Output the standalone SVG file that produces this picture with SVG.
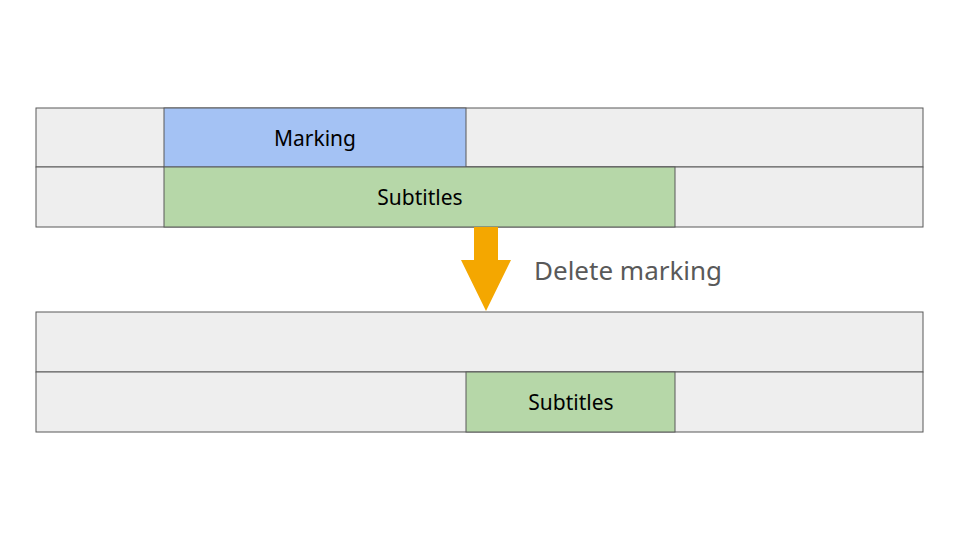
<svg xmlns="http://www.w3.org/2000/svg" width="960" height="540" viewBox="0 0 960 540">
<style>
.bg{fill:#eeeeee;stroke:#595959;stroke-width:1}
.blue{fill:#a4c2f4;stroke:#595959;stroke-width:1}
.green{fill:#b6d7a8;stroke:#595959;stroke-width:1}
text{font-family:"Noto Sans","Open Sans",sans-serif;text-anchor:middle;dominant-baseline:central}
.lbl{font-size:21px;fill:#000}
.note{font-size:26px;fill:#595959;text-anchor:start}
</style>
<rect width="960" height="540" fill="#fff"/>
<g id="top-row1"><rect class="bg" x="36" y="108" width="887" height="59"/></g>
<g id="top-row2"><rect class="bg" x="36" y="167" width="887" height="60"/></g>
<g id="marking"><rect class="blue" x="164" y="108" width="302" height="59"/><text class="lbl" x="315" y="138">Marking</text></g>
<g id="subtitles-top"><rect class="green" x="164" y="167" width="511" height="60"/><text class="lbl" x="420" y="197">Subtitles</text></g>
<g id="bottom-row1"><rect class="bg" x="36" y="312" width="887" height="60"/></g>
<g id="bottom-row2"><rect class="bg" x="36" y="372" width="887" height="60"/></g>
<g id="subtitles-bottom"><rect class="green" x="466" y="372" width="209" height="60"/><text class="lbl" x="571" y="402">Subtitles</text></g>
<g id="connectors"><polygon points="474,227 498,227 498,260 511,260 486,311 461,260 474,260" fill="#f4a700"/></g>
<g id="label"><text class="note" x="534" y="270">Delete marking</text></g>
</svg>
